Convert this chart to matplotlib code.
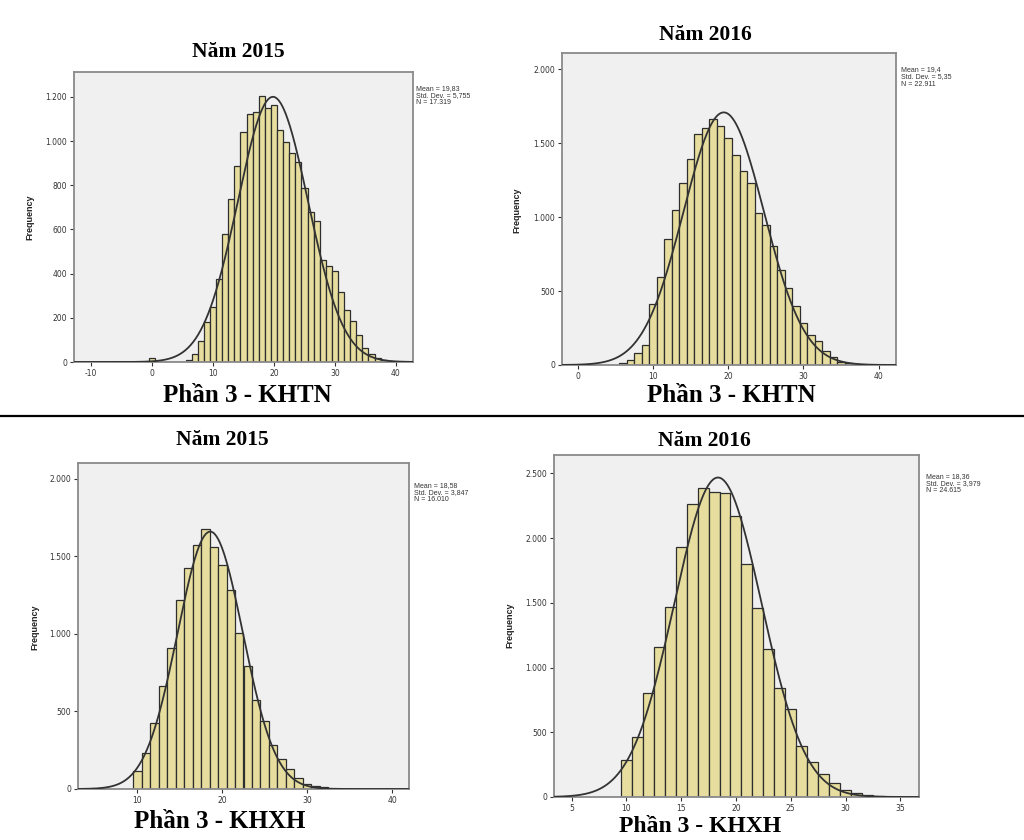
import numpy as np
import matplotlib
matplotlib.use("Agg")
import matplotlib.pyplot as plt
from matplotlib.ticker import FuncFormatter

plt.rcParams["axes.unicode_minus"] = False

# panel 1: 2015 KHTN
bins_1 = [0, 6, 7, 8, 9, 10, 11, 12, 13, 14, 15, 16, 17, 18, 19, 20, 21, 22, 23,
          24, 25, 26, 27, 28, 29, 30, 31, 32, 33, 34, 35, 36, 37, 38, 39]
freq_1 = [20, 10, 38, 94, 181, 248, 376, 578, 738, 889, 1041, 1125, 1130, 1206, 1149,
          1164, 1050, 995, 945, 906, 789, 681, 638, 463, 436, 414, 317, 235, 184,
          121, 65, 38, 18, 8, 3]
stats_1 = (19.83, 5.755, 17319)

# panel 2: 2016 KHTN
bins_2 = [6, 7, 8, 9, 10, 11, 12, 13, 14, 15, 16, 17, 18, 19, 20, 21, 22, 23, 24,
          25, 26, 27, 28, 29, 30, 31, 32, 33, 34, 35, 36]
freq_2 = [11, 34, 79, 137, 412, 592, 851, 1047, 1232, 1390, 1565, 1604, 1667, 1613,
          1534, 1423, 1313, 1232, 1025, 946, 806, 642, 518, 399, 286, 203, 164, 95,
          56, 23, 11]
stats_2 = (19.4, 5.35, 22911)

# panel 3: 2015 KHXH
bins_3 = [10, 11, 12, 13, 14, 15, 16, 17, 18, 19, 20, 21, 22, 23, 24, 25, 26, 27,
          28, 29, 30, 31, 32]
freq_3 = [118, 230, 425, 665, 912, 1217, 1423, 1573, 1680, 1564, 1448, 1283, 1009,
          794, 575, 436, 281, 193, 129, 69, 32, 21, 11]
stats_3 = (18.58, 3.847, 16010)

# panel 4: 2016 KHXH
bins_4 = [10, 11, 12, 13, 14, 15, 16, 17, 18, 19, 20, 21, 22, 23, 24, 25, 26, 27,
          28, 29, 30, 31, 32, 33]
freq_4 = [284, 464, 807, 1155, 1464, 1933, 2263, 2389, 2358, 2351, 2173, 1799, 1461,
          1147, 845, 678, 394, 271, 180, 108, 57, 34, 13, 8]
stats_4 = (18.36, 3.979, 24615)

stat_labels = ["Mean = 19,83\nStd. Dev. = 5,755\nN = 17.319",
               "Mean = 19,4\nStd. Dev. = 5,35\nN = 22.911",
               "Mean = 18,58\nStd. Dev. = 3,847\nN = 16.010",
               "Mean = 18,36\nStd. Dev. = 3,979\nN = 24.615"]
years = ["Năm 2015", "Năm 2016", "Năm 2015", "Năm 2016"]
parts = ["Phần 3 - KHTN", "Phần 3 - KHTN", "Phần 3 - KHXH", "Phần 3 - KHXH"]

W, H = 1024, 840
fig = plt.figure(figsize=(W / 100, H / 100), dpi=100)

def px(x, y):
    return x / W, 1 - y / H

# axes boxes in pixels: left, top, right, bottom
boxes = [(74, 72, 413, 362), (562, 53, 896, 365), (78, 463, 409, 789), (554, 455, 919, 797)]
xlims = [(-12.8, 42.8), (-2.1, 42.3), (3.0, 42.0), (3.4, 36.7)]
ylims = [1313, 2110, 2103, 2642]
xticks = [[-10, 0, 10, 20, 30, 40], [0, 10, 20, 30, 40], [10, 20, 30, 40],
          [5, 10, 15, 20, 25, 30, 35]]
ysteps = [200, 500, 500, 500]
title_pos = [(238, 52), (705, 35), (222, 440), (704, 441)]
part_pos = [(247, 395), (731, 395), (220, 821), (700, 827)]
part_size = [18, 18, 18, 17]
freq_pos = [(30, 217), (517, 210), (35, 627), (510, 625)]
stat_pos = [(416, 85), (901, 66), (414, 482), (926, 473)]

data = [(bins_1, freq_1, stats_1), (bins_2, freq_2, stats_2),
        (bins_3, freq_3, stats_3), (bins_4, freq_4, stats_4)]

fmt = FuncFormatter(lambda v, p: "{:,.0f}".format(v).replace(",", "."))

for i in range(4):
    l, t, r, b = boxes[i]
    ax = fig.add_axes([l / W, 1 - b / H, (r - l) / W, (b - t) / H])
    ax.set_facecolor("#f0f0f0")
    bins, freq, (mu, sd, n) = data[i]
    ax.bar(bins, freq, width=1.0, color="#e6dd9f", edgecolor="#2e2e2e", linewidth=0.9, zorder=2)
    # fitted normal curve from the stats printed on the chart
    xs = np.linspace(xlims[i][0], xlims[i][1], 400)
    ys = n * 1.0 / (sd * np.sqrt(2 * np.pi)) * np.exp(-0.5 * ((xs - mu) / sd) ** 2)
    ax.plot(xs, ys, color="#333333", lw=1.3, zorder=3)
    ax.set_xlim(*xlims[i])
    ax.set_ylim(0, ylims[i])
    ax.set_xticks(xticks[i])
    ax.set_yticks(np.arange(0, ylims[i], ysteps[i]))
    ax.yaxis.set_major_formatter(fmt)
    ax.tick_params(labelsize=5.5, length=3, width=0.8, colors="#333333", pad=2)
    for s in ax.spines.values():
        s.set_color("#8a8a8a")
        s.set_linewidth(1.3)
    x, y = stat_pos[i]
    fig.text(*px(x, y), stat_labels[i], fontsize=5, va="top", ha="left",
             family="Liberation Sans", color="#333333", linespacing=1.05)
    x, y = freq_pos[i]
    fig.text(*px(x, y), "Frequency", fontsize=6.5, fontweight="bold", rotation=90,
             ha="center", va="center", family="Liberation Sans", color="#222222")
    x, y = title_pos[i]
    fig.text(*px(x, y), years[i], fontsize=15.5, fontweight="bold", ha="center",
             va="center", family="Liberation Serif")
    x, y = part_pos[i]
    fig.text(*px(x, y), parts[i], fontsize=part_size[i], fontweight="bold", ha="center",
             va="center", family="Liberation Serif")

# separator between the two rows
fig.add_artist(plt.Line2D([0, 1], [1 - 416 / H, 1 - 416 / H], color="black", lw=1.6))

fig.savefig("out.png", dpi=100)
